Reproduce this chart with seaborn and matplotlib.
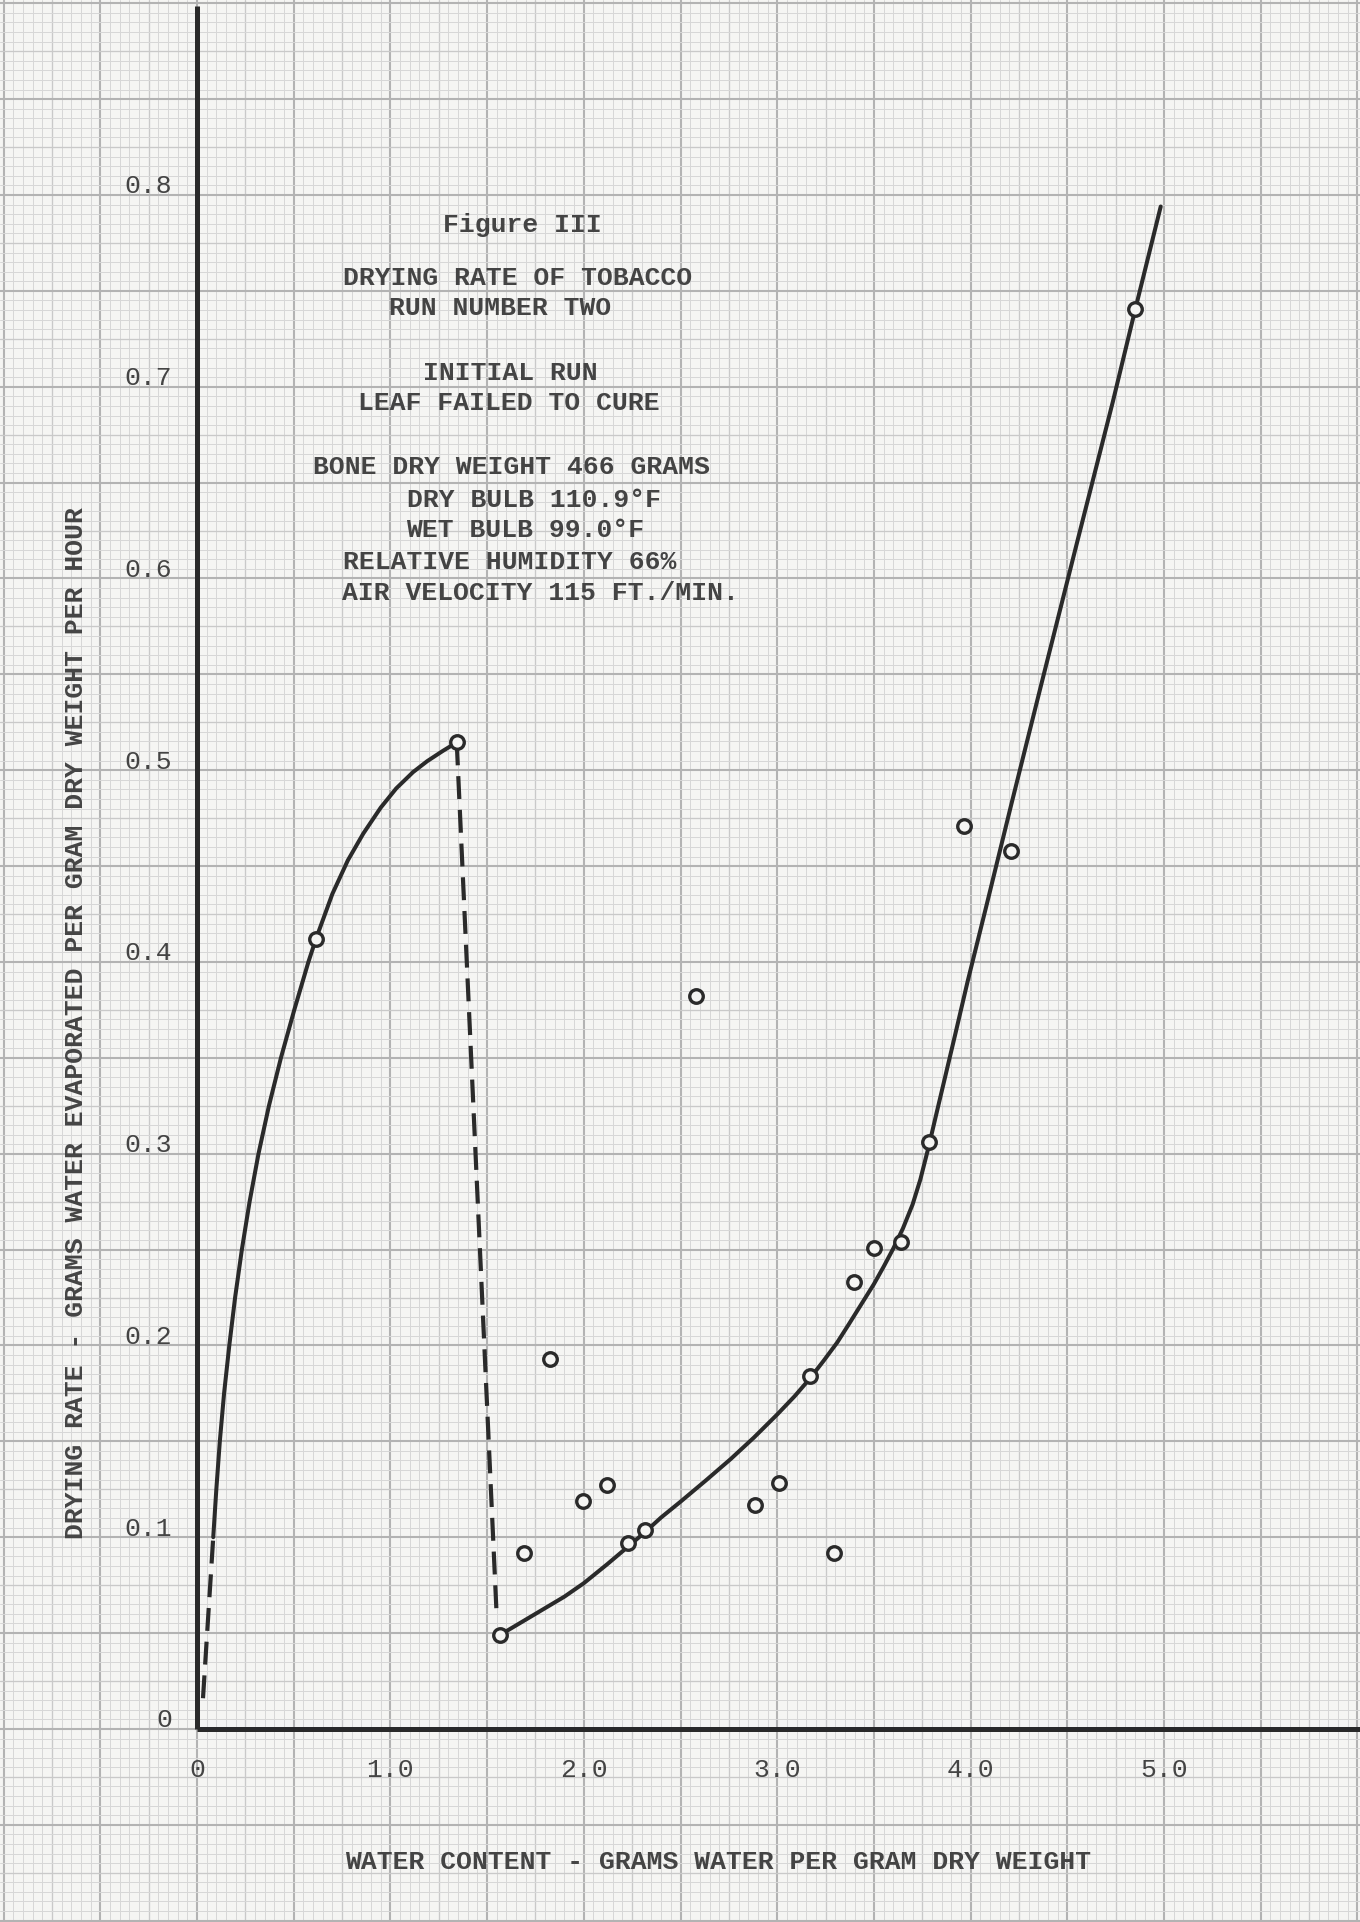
import numpy as np
import matplotlib
matplotlib.use("Agg")
import matplotlib.pyplot as plt
import seaborn as sns

# ---------------- data ----------------
pts_x = [0.615, 1.343, 1.567, 1.689, 1.826, 1.994, 2.119, 2.228, 2.315, 2.580,
         2.883, 3.009, 3.167, 3.296, 3.397, 3.499, 3.638, 3.784, 3.968, 4.208, 4.850]
pts_y = [0.412, 0.5145, 0.049, 0.092, 0.193, 0.119, 0.127, 0.097, 0.1035, 0.382,
         0.117, 0.128, 0.184, 0.092, 0.233, 0.251, 0.254, 0.306, 0.471, 0.458, 0.7406]

# left solid curve (hand-drawn fit on the original)
curveA_x = [0.084, 0.100, 0.118, 0.140, 0.167, 0.197, 0.232, 0.272, 0.318, 0.372, 0.434,
            0.503, 0.576, 0.615, 0.700, 0.780, 0.860, 0.950, 1.030, 1.117, 1.190, 1.270, 1.343]
curveA_y = [0.100, 0.125, 0.150, 0.175, 0.200, 0.225, 0.250, 0.275, 0.300, 0.325, 0.350,
            0.375, 0.400, 0.412, 0.4355, 0.453, 0.467, 0.4805, 0.4905, 0.499, 0.5047, 0.510, 0.5145]

# dashed extrapolation to origin
dashA_x = [0.031, 0.084]
dashA_y = [0.016, 0.100]

# dashed drop
dashB_x = [1.343, 1.550]
dashB_y = [0.5145, 0.058]

# right solid curve
curveC_x = [1.600, 1.700, 1.800, 1.900, 2.000, 2.120, 2.228, 2.315, 2.400, 2.500, 2.630,
            2.760, 2.880, 3.000, 3.090, 3.167, 3.240, 3.310, 3.370, 3.435, 3.500, 3.550,
            3.600, 3.650, 3.700, 3.740, 3.784, 3.820, 3.860, 3.920, 3.985, 4.081,
            4.210, 4.366, 4.556, 4.735, 4.848, 4.983]
curveC_y = [0.051, 0.057, 0.063, 0.069, 0.076, 0.0858, 0.095, 0.1025, 0.1103, 0.1185, 0.1295,
            0.1408, 0.152, 0.164, 0.1735, 0.1825, 0.192, 0.2015, 0.211, 0.2215, 0.232, 0.241,
            0.2505, 0.261, 0.2735, 0.2865, 0.304, 0.3195, 0.3365, 0.362, 0.390, 0.429,
            0.482, 0.545, 0.621, 0.692, 0.739, 0.794]

x_tick_vals = [0, 1, 2, 3, 4, 5]
x_tick_labels = ["0", "1.0", "2.0", "3.0", "4.0", "5.0"]
y_tick_vals = [0, 0.1, 0.2, 0.3, 0.4, 0.5, 0.6, 0.7, 0.8]
y_tick_labels = ["0", "0.1", "0.2", "0.3", "0.4", "0.5", "0.6", "0.7", "0.8"]

title_lines = ["Figure III", "DRYING RATE OF TOBACCO", "RUN NUMBER TWO",
               "INITIAL RUN", "LEAF FAILED TO CURE",
               "BONE DRY WEIGHT 466 GRAMS", "DRY BULB 110.9°F", "WET BULB 99.0°F",
               "RELATIVE HUMIDITY 66%", "AIR VELOCITY 115 FT./MIN."]

x_title = "WATER CONTENT - GRAMS WATER PER GRAM DRY WEIGHT"
y_title = "DRYING RATE - GRAMS WATER EVAPORATED PER GRAM DRY WEIGHT PER HOUR"

# ---------------- styling ----------------
sns.set_style("white")
FONT = ["Liberation Mono", "DejaVu Sans Mono"]
plt.rcParams["font.family"] = FONT

PAPER = "#f5f5f3"
INK = "#2a2a2a"
TXT = "#444444"

fig = plt.figure(figsize=(13.6, 19.22), dpi=100, facecolor=PAPER)
ax = fig.add_axes([0, 0, 1, 1])
XL = (-1.0186, 6.0134)
YL = (-0.1007, 0.9017)
ax.set_xlim(*XL)
ax.set_ylim(*YL)
ax.set_axis_off()

# graph-paper grid
def grid_style(k):
    if k % 10 == 0:
        return "#b3b3b3", 1.5
    if k % 5 == 0:
        return "#c9c9c9", 0.95
    return "#d7d7d7", 0.7

for i in range(-22, 124):
    c, lw = grid_style(i)
    ax.axvline(i * 0.05, color=c, lw=lw, zorder=0)
for j in range(-22, 184):
    c, lw = grid_style(j)
    ax.axhline(j * 0.005, color=c, lw=lw, zorder=0)

# main axes lines
y0frac = (0 - YL[0]) / (YL[1] - YL[0])
x0frac = (0 - XL[0]) / (XL[1] - XL[0])
ax.axvline(0, ymin=y0frac, ymax=0.997, color=INK, lw=3.6, zorder=2, solid_capstyle="butt")
ax.axhline(0, xmin=x0frac, xmax=1.0, color=INK, lw=3.6, zorder=2, solid_capstyle="butt")

# curves
sns.lineplot(x=curveA_x, y=curveA_y, sort=False, estimator=None, ax=ax,
             color=INK, linewidth=2.9, zorder=3)
ax.lines[-1].set_solid_joinstyle("round")
sns.lineplot(x=curveC_x, y=curveC_y, sort=False, estimator=None, ax=ax,
             color=INK, linewidth=2.9, zorder=3)
ax.lines[-1].set_solid_joinstyle("round")
sns.lineplot(x=dashA_x, y=dashA_y, sort=False, estimator=None, ax=ax,
             color=INK, linewidth=3.0, zorder=3)
ax.lines[-1].set_dashes((5.5, 2.6))
sns.lineplot(x=dashB_x, y=dashB_y, sort=False, estimator=None, ax=ax,
             color=INK, linewidth=3.0, zorder=3)
ax.lines[-1].set_dashes((5.5, 2.6))

# data points
sns.scatterplot(x=pts_x, y=pts_y, marker="o", s=95, facecolor=PAPER,
                edgecolor=INK, linewidth=2.4, ax=ax, zorder=5)

# tick labels
for v, t in zip(x_tick_vals, x_tick_labels):
    ax.text(v, -0.0214, t, ha="center", va="center", fontsize=19,
            color=TXT, family=FONT)
for v, t in zip(y_tick_vals, y_tick_labels):
    ax.text(-0.13, v + 0.0045, t, ha="right", va="center", fontsize=19,
            color=TXT, family=FONT)

# title block
title_pos = [(1.680, 0.7844), (1.660, 0.7567), (1.569, 0.7411),
             (1.618, 0.7072), (1.613, 0.6915),
             (1.626, 0.6581), (1.745, 0.6409), (1.696, 0.6253),
             (1.618, 0.6086), (1.774, 0.5924)]
for (tx, ty), t in zip(title_pos, title_lines):
    ax.text(tx, ty, t, ha="center", va="center", fontsize=19, color=TXT,
            family=FONT, fontweight="bold")

ax.text(2.694, -0.0694, x_title, ha="center", va="center", fontsize=19,
        color=TXT, family=FONT, fontweight="bold")
ax.text(-0.626, 0.368, y_title, ha="center", va="center", rotation=90,
        fontsize=19, color=TXT, family=FONT, fontweight="bold")

fig.savefig("out.png", dpi=100, facecolor=PAPER)
